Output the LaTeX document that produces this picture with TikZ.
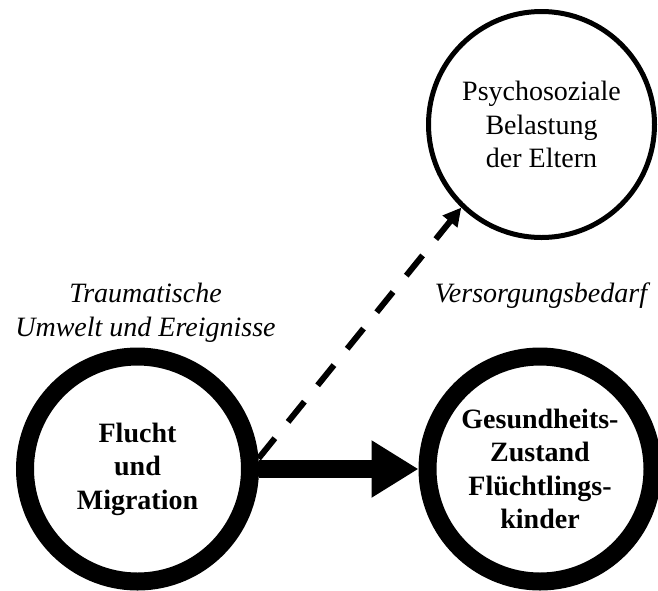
\documentclass[tikz,border=0pt]{standalone}
\usepackage{fontspec}
\setmainfont{Liberation Serif}
\usetikzlibrary{arrows.meta}
\newcommand\diagfont{\fontsize{28}{33.6}\selectfont}
\begin{document}
\begin{tikzpicture}[x=1pt,y=-1pt,
  every node/.style={font=\diagfont, align=center, inner sep=0pt},
  heavy/.style={circle, draw, line width=18pt, minimum size=225pt, font=\diagfont\bfseries},
  light/.style={circle, draw, line width=5pt, minimum size=226pt},
  remark/.style={font=\diagfont\itshape, anchor=base},
]
\useasboundingbox (0,0) rectangle (658,590);

% the three factors
\node[light] (eltern) at (541.5,124.5) {Psychosoziale\\Belastung\\der Eltern};
\node[heavy] (flucht) at (137.5,469) {Flucht\\und\\Migration};
\node[heavy] (kinder) at (540,469) {Gesundheits-\\Zustand\\Flüchtlings-\\kinder};

% connectors
\draw[line width=18pt, -{Triangle[length=47pt,width=54pt]}] (flucht.east) -- (kinder.west);
\draw[line width=6pt, dash pattern=on 26pt off 21pt, -{Triangle[length=18pt,width=18pt]}] (flucht.5) -- (eltern.226);

% annotations (base anchor sits on the last line)
\node[remark] (trauma) at (145.5,336) {Traumatische\\Umwelt und Ereignisse};
\node[remark] (bedarf) at (541,302) {Versorgungsbedarf};
\end{tikzpicture}
\end{document}
